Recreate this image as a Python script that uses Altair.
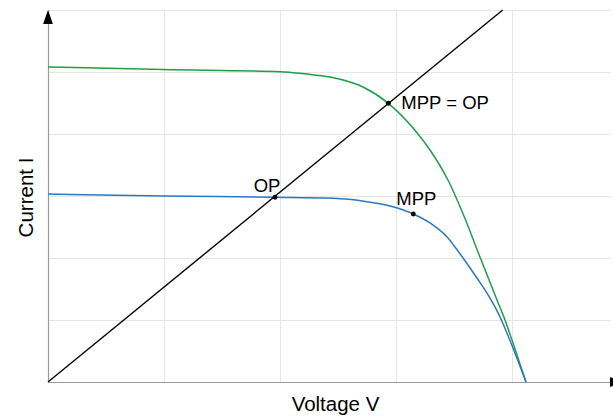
import altair as alt
import pandas as pd

# Curve data (x in grid units of voltage, y in grid units of current)
green_v = [0.0, 0.991, 2.0, 2.216, 2.431, 2.716, 2.934, 3.147, 3.293, 3.448, 3.586, 3.724, 3.871, 3.940, 4.0, 4.121]
green_i = [5.081, 5.040, 5.005, 4.970, 4.919, 4.758, 4.495, 4.097, 3.742, 3.258, 2.677, 2.016, 1.323, 1.0, 0.677, 0.0]

blue_v = [0.0, 0.991, 1.957, 2.457, 2.75, 2.948, 3.149, 3.293, 3.440, 3.578, 3.698, 3.810, 3.897, 3.974, 4.121]
blue_i = [3.032, 3.0, 2.979, 2.963, 2.908, 2.839, 2.710, 2.565, 2.339, 2.0, 1.677, 1.355, 1.048, 0.710, 0.0]

load_v = [0.0, 3.92]
load_i = [0.0, 6.0]

pt_label = ["OP", "MPP", "MPP = OP"]
pt_v = [1.957, 3.149, 2.934]
pt_i = [2.979, 2.710, 4.495]

x_max = 4.845
y_max = 6

rows = []
for v, i in zip(green_v, green_i):
    rows.append({"V": v, "I": i, "s": "green"})
for v, i in zip(blue_v, blue_i):
    rows.append({"V": v, "I": i, "s": "blue"})
curves = pd.DataFrame(rows)
load = pd.DataFrame({"V": load_v, "I": load_i})
pts = pd.DataFrame({"V": pt_v, "I": pt_i, "label": pt_label})
arrows = pd.DataFrame({"V": [0.0, 4.966], "I": [float(y_max), 0.0],
                       "k": ["up", "right"]})

xs = alt.Scale(domain=[0, x_max], nice=False, zero=True)
ys = alt.Scale(domain=[0, y_max], nice=False, zero=True)

X = alt.X("V:Q", scale=xs,
          axis=alt.Axis(title="Voltage V", values=[0, 1, 2, 3, 4],
                        titleBaseline="alphabetic", titleY=28, titleX=287))
Y = alt.Y("I:Q", scale=ys,
          axis=alt.Axis(title="Current I", values=[0, 1, 2, 3, 4, 5, 6],
                        titleBaseline="alphabetic", titleX=-16, titleY=187))

curve_chart = alt.Chart(curves).mark_line(strokeWidth=1.5, interpolate="monotone").encode(
    x=X, y=Y,
    color=alt.Color("s:N", scale=alt.Scale(domain=["green", "blue"],
                                           range=["#1f9e48", "#2b78c2"]), legend=None),
    detail="s:N",
)

load_chart = alt.Chart(load).mark_line(color="#000000", strokeWidth=1.4).encode(
    x=alt.X("V:Q", scale=xs), y=alt.Y("I:Q", scale=ys))

dots = alt.Chart(pts).mark_point(filled=True, color="#000000", size=24, opacity=1).encode(
    x=alt.X("V:Q", scale=xs), y=alt.Y("I:Q", scale=ys))

txt_common = dict(font="Liberation Sans", fontSize=18.5, color="#000000", baseline="alphabetic")
t_op = alt.Chart(pts[pts.label == "OP"]).mark_text(align="center", dx=-8, dy=-5, **txt_common).encode(
    x=alt.X("V:Q", scale=xs), y=alt.Y("I:Q", scale=ys), text="label:N")
t_mpp = alt.Chart(pts[pts.label == "MPP"]).mark_text(align="center", dx=3, dy=-9, **txt_common).encode(
    x=alt.X("V:Q", scale=xs), y=alt.Y("I:Q", scale=ys), text="label:N")
t_both = alt.Chart(pts[pts.label == "MPP = OP"]).mark_text(align="left", dx=13, dy=6, **txt_common).encode(
    x=alt.X("V:Q", scale=xs), y=alt.Y("I:Q", scale=ys), text="label:N")

arrow_up = alt.Chart(arrows[arrows.k == "up"]).mark_point(
    shape="M0,0L0.7,2L-0.7,2Z", filled=True, color="#000000", size=196, opacity=1).encode(
    x=alt.X("V:Q", scale=xs), y=alt.Y("I:Q", scale=ys))
arrow_right = alt.Chart(arrows[arrows.k == "right"]).mark_point(
    shape="M0,0L-2,-0.7L-2,0.7Z", filled=True, color="#000000", size=196, opacity=1).encode(
    x=alt.X("V:Q", scale=xs), y=alt.Y("I:Q", scale=ys))

chart = alt.layer(curve_chart, load_chart, dots, t_op, t_mpp, t_both, arrow_up, arrow_right).properties(
    width=562, height=372,
    autosize=alt.AutoSizeParams(type="none"),
    padding={"left": 48, "top": 10, "right": 3, "bottom": 34},
).configure_view(stroke=None).configure_axis(
    ticks=False, labels=False, grid=True, gridColor="#e6e6e6", gridWidth=1,
    domain=True, domainColor="#999999", domainWidth=1.2,
    titleFont="Liberation Sans", titleFontSize=20.5, titleFontWeight="normal", titleColor="#000000",
)

chart.save("out.html", embed_options={"renderer": "svg", "actions": False})
